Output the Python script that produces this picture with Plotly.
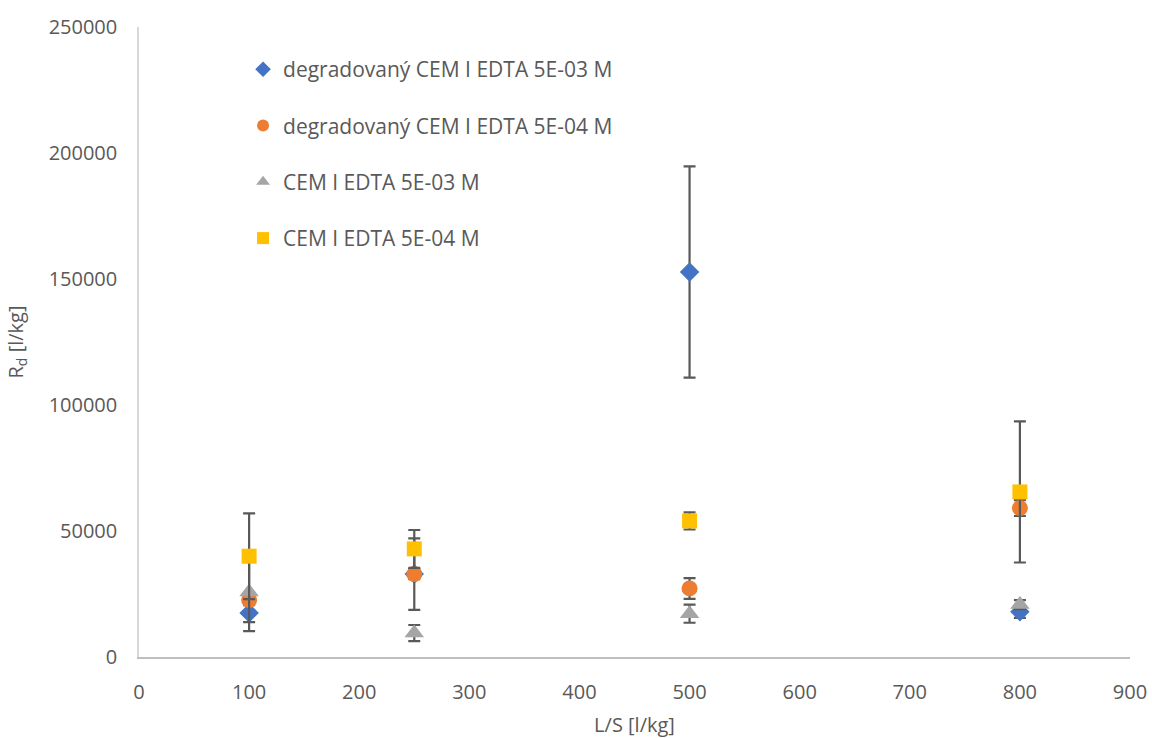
import plotly.graph_objects as go

x_vals = [100, 250, 500, 800]

names = [
    "degradovaný CEM I EDTA 5E-03 M",
    "degradovaný CEM I EDTA 5E-04 M",
    "CEM I EDTA 5E-03 M",
    "CEM I EDTA 5E-04 M",
]

deg_5e03 = [17500, 32900, 152800, 18000]
deg_5e03_err = [3700, 2000, 41900, 2500]

deg_5e04 = [22600, 32900, 27200, 59100]
deg_5e04_err = [2000, 14200, 4100, 3150]

cem_5e03 = [25800, 9500, 17200, 20800]
cem_5e03_err = [15500, 3200, 3600, 1800]

cem_5e04 = [40000, 42900, 54000, 65500]
cem_5e04_err = [17000, 7500, 3400, 28000]

series = [
    (names[0], deg_5e03, deg_5e03_err, "diamond", "#4472C4", 15),
    (names[1], deg_5e04, deg_5e04_err, "circle", "#ED7D31", 16),
    (names[2], cem_5e03, cem_5e03_err, "triangle-up", "#A5A5A5", 17),
    (names[3], cem_5e04, cem_5e04_err, "square", "#FFC000", 15),
]

FONT = "Open Sans"
TXT = "#595959"

fig = go.Figure()
for i, (nm, ys, es, sym, col, sz) in enumerate(series):
    fig.add_trace(go.Scatter(
        x=x_vals, y=ys, mode="markers", name=nm,
        legendgroup=f"g{i}",
        marker=dict(symbol=sym, color=col, size=sz, line=dict(width=0)),
        error_y=dict(type="data", array=es, visible=True,
                     color="#595959", thickness=2.2, width=6),
    ))

fig.update_layout(
    width=1152, height=738,
    margin=dict(l=139, r=22, t=27, b=81),
    paper_bgcolor="white", plot_bgcolor="white",
    font=dict(family=FONT, size=20, color=TXT),
    showlegend=True,
    legend=dict(
        x=0.105, y=0.965, xanchor="left", yanchor="top",
        bgcolor="rgba(0,0,0,0)", tracegroupgap=26,
        font=dict(family=FONT, size=21, color=TXT),
        itemsizing="constant",
    ),
    xaxis=dict(
        range=[0, 900], dtick=100, tick0=0,
        showgrid=False, zeroline=False, automargin=False,
        showline=True, linecolor="#BFBFBF", linewidth=1.5,
        ticks="", ticklabelstandoff=16,
        tickfont=dict(family=FONT, size=20, color=TXT),
        title=dict(text="L/S [l/kg]", standoff=16,
                   font=dict(family=FONT, size=20, color=TXT)),
    ),
    yaxis=dict(
        range=[0, 250000], dtick=50000, tick0=0,
        showgrid=False, zeroline=False, automargin=False,
        showline=True, linecolor="#D9D9D9", linewidth=1.5,
        ticks="", ticklabelstandoff=16,
        tickformat="d",
        tickfont=dict(family=FONT, size=20, color=TXT),
        title=dict(text="R<sub>d</sub> [l/kg]", standoff=20,
                   font=dict(family=FONT, size=20, color=TXT)),
    ),
)

fig.write_html("out.html")
